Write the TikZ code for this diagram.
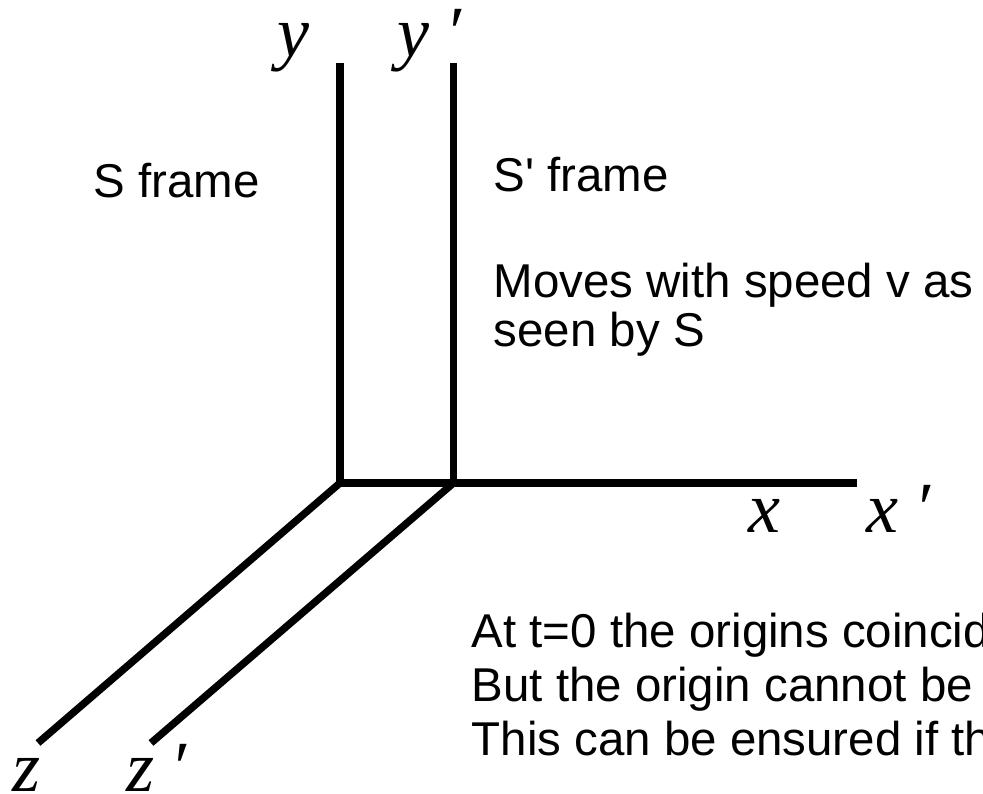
\documentclass[tikz,border=0pt]{standalone}
\usepackage{fontspec}
\setmainfont{Liberation Sans}
\newfontfamily\axisfont{Liberation Serif}
\usetikzlibrary{positioning}

\begin{document}
\begin{tikzpicture}[
  axis/.style={draw=black,line width=2.1pt},
  note/.style={anchor=base west,inner sep=0pt,align=left,font=\fontsize{13.5}{15.4}\selectfont},
  axlabel/.style={anchor=base west,inner sep=0pt,font=\axisfont\itshape\fontsize{20.5}{24}\selectfont}]
  \useasboundingbox (0,0) rectangle (9.83,-7.94);
  \clip (0,0) rectangle (9.83,-7.94);
  % the two origins and the ends of the axes
  \coordinate (o) at (3.40,-4.83);
  \coordinate (op) at (4.535,-4.83);
  \coordinate (ytop) at (3.40,-0.63);
  \coordinate (yptop) at (4.535,-0.63);
  \coordinate (xend) at (8.57,-4.83);
  \coordinate (zend) at (0.38,-7.43);
  \coordinate (zpend) at (1.51,-7.43);
  \draw[axis] (ytop) -- (o) -- (xend);
  \draw[axis] (yptop) -- (op);
  \draw[axis] (o) -- (zend);
  \draw[axis] (op) -- (zpend);
  % axis labels
  \node[axlabel] (ylab) at (2.77,-0.57) {y};
  \node[axlabel] (yplab) at (3.97,-0.57) {y\hspace{0.22em}\char"2032};
  \node[axlabel] (xlab) at (7.48,-5.33) {x};
  \node[axlabel] (xplab) at (8.66,-5.33) {x\hspace{0.22em}\char"2032};
  \node[axlabel] (zlab) at (0.12,-7.92) {z};
  \node[axlabel] (zplab) at (1.26,-7.92) {z\hspace{0.22em}\char"2032};
  % the texts (base of a block is its last line)
  \node[note] (sframe) at (0.93,-1.98) {S frame};
  \node[note] (spframe) at (4.93,-1.92) {S\textquotesingle{} frame};
  \node[note,font=\fontsize{13.5}{13.95}\selectfont] (moves) at (4.93,-3.47) {Moves with speed v as\\seen by S};
  \node[note] (coincide) at (4.71,-7.56) {At t=0 the origins coincide\\But the origin cannot be\\This can be ensured if the};
\end{tikzpicture}
\end{document}
